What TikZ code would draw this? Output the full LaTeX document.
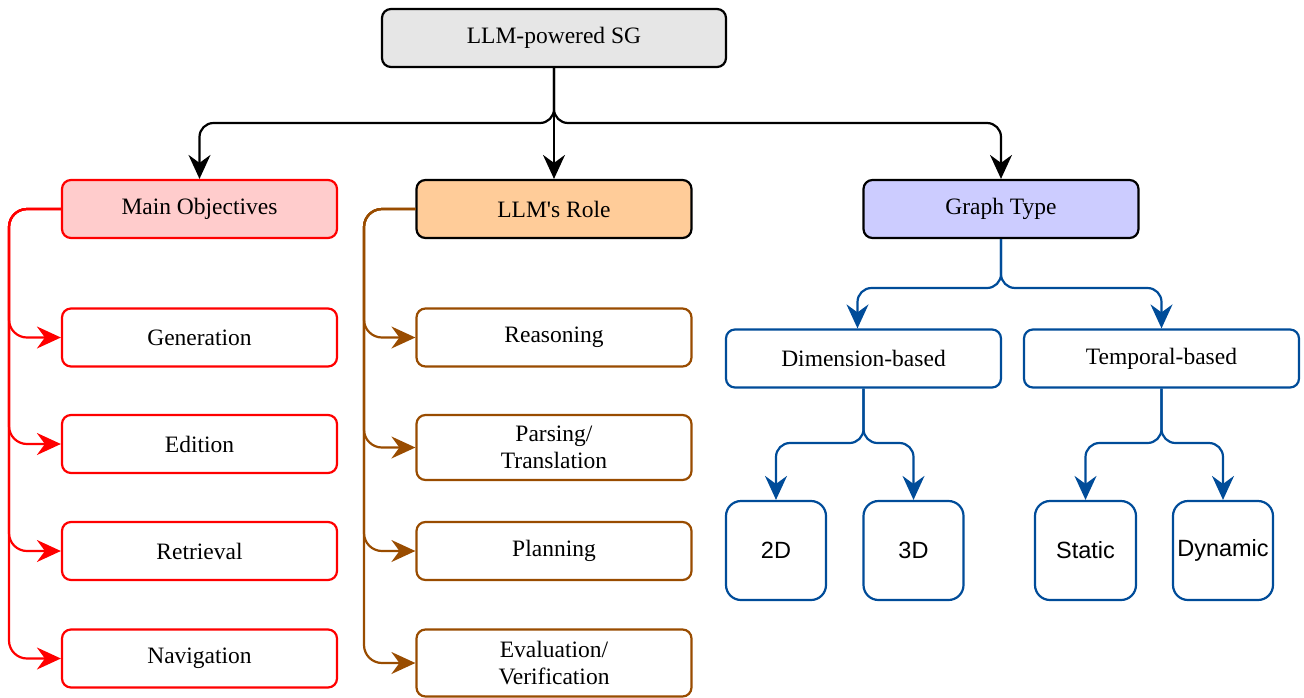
\documentclass[tikz,border=0pt]{standalone}
\usepackage{fontspec}
\setmainfont{Liberation Serif}[Ligatures=TeXOff]
\newfontfamily\sansf{Liberation Sans}
\usetikzlibrary{arrows.meta}

\definecolor{topfill}{HTML}{E6E6E6}
\definecolor{objred}{HTML}{FF0000}
\definecolor{objfill}{HTML}{FFCCCC}
\definecolor{rolefill}{HTML}{FFCC99}
\definecolor{rolebrown}{HTML}{994C00}
\definecolor{typefill}{HTML}{CCCCFF}
\definecolor{typeblue}{HTML}{004C99}

\tikzset{
  box/.style={draw, line width=2.2pt, rounded corners=9pt, align=center,
    font=\fontsize{23.5}{27.5}\selectfont, inner sep=0pt, text=black},
  wide/.style={box, minimum width=275pt, minimum height=58pt},
  square/.style={box, rounded corners=15pt, minimum width=100pt, minimum height=99pt,
    font=\sansf\fontsize{23.5}{28}\selectfont},
  link/.style={line width=2.2pt, rounded corners=14pt,
    -{Stealth[length=24pt, width=22pt, inset=8pt]}},
  sidelink/.style={link, rounded corners=18pt},
}

\begin{document}
\begin{tikzpicture}[x=1pt, y=-1pt]
\useasboundingbox (0,0) rectangle (1304,697);

% root
\node[box, fill=topfill, minimum width=344pt, minimum height=58pt] (top) at (554,38) {LLM-powered SG};

% first level
\node[wide, draw=objred, fill=objfill] (mo) at (199.5,209) {Main Objectives};
\node[wide, fill=rolefill] (role) at (554,209) {LLM's Role};
\node[wide, fill=typefill] (gt) at (1001,209) {Graph Type};

% main objectives
\node[wide, draw=objred, fill=white] (gen) at (199.5,337.5) {Generation};
\node[wide, draw=objred, fill=white] (edi) at (199.5,444) {Edition};
\node[wide, draw=objred, fill=white] (ret) at (199.5,551) {Retrieval};
\node[wide, draw=objred, fill=white] (nav) at (199.5,658.5) {Navigation};

% roles
\node[wide, draw=rolebrown, fill=white] (rea) at (554,337.5) {Reasoning};
\node[wide, draw=rolebrown, fill=white, minimum height=65pt] (par) at (554,447.5) {Parsing/\\Translation};
\node[wide, draw=rolebrown, fill=white] (pla) at (554,551) {Planning};
\node[wide, draw=rolebrown, fill=white, minimum height=67pt] (eva) at (554,663) {Evaluation/\\Verification};

% graph types
\node[wide, draw=typeblue, fill=white] (dim) at (863.5,358.5) {Dimension-based};
\node[wide, draw=typeblue, fill=white] (tem) at (1161.5,358.5) {Temporal-based};
\node[square, draw=typeblue, fill=white] (d2) at (776,550.5) {2D};
\node[square, draw=typeblue, fill=white] (d3) at (913.5,550.5) {3D};
\node[square, draw=typeblue, fill=white, minimum width=101pt] (sta) at (1085.5,550.5) {Static};
\node[square, draw=typeblue, fill=white] (dyn) at (1223,550.5) {Dynamic};

% branching points
\coordinate (rootbus) at (554,123);
\coordinate (objbus) at (9,209);
\coordinate (rolebus) at (364,209);
\coordinate (typebus) at (1001,288);
\coordinate (dimbus) at (863.5,443);
\coordinate (tembus) at (1161.5,443);

% root connectors
\draw[link] (top.south) -- (rootbus) -| (mo.north);
\draw[link] (top.south) -- (role.north);
\draw[link] (top.south) -- (rootbus) -| (gt.north);

% objective connectors
\foreach \n in {gen,edi,ret,nav}
  \draw[sidelink, draw=objred] (mo.west) -- (objbus) |- (\n.west);

% role connectors
\foreach \n in {rea,par,pla,eva}
  \draw[sidelink, draw=rolebrown] (role.west) -- (rolebus) |- (\n.west);

% graph type connectors
\draw[link, draw=typeblue] (gt.south) -- (typebus) -| ([xshift=-6pt]dim.north);
\draw[link, draw=typeblue] (gt.south) -- (typebus) -| (tem.north);
\draw[link, draw=typeblue] (dim.south) -- (dimbus) -| (d2.north);
\draw[link, draw=typeblue] (dim.south) -- (dimbus) -| (d3.north);
\draw[link, draw=typeblue] (tem.south) -- (tembus) -| (sta.north);
\draw[link, draw=typeblue] (tem.south) -- (tembus) -| (dyn.north);
\end{tikzpicture}
\end{document}
